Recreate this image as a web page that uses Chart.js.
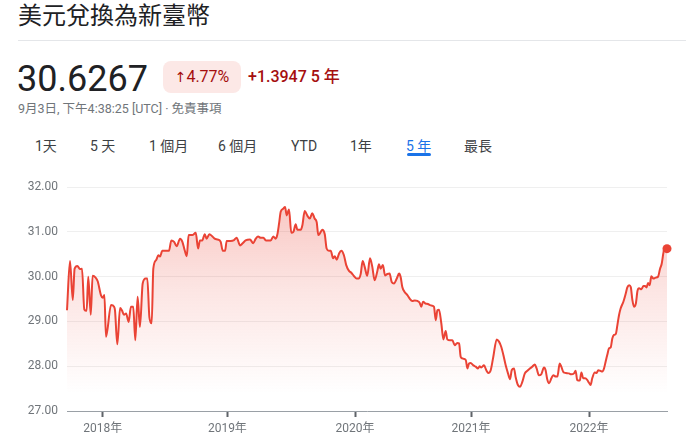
<!DOCTYPE html>
<html>
<head>
<meta charset="utf-8">
<script src="https://cdn.jsdelivr.net/npm/chart.js@4"></script>
<style>
  html,body{margin:0;padding:0;background:#fff;}
  body{width:686px;height:446px;position:relative;overflow:hidden;font-family:Roboto,"Noto Sans CJK TC",sans-serif;color:#202124;}
  .abs{position:absolute;white-space:nowrap;}
  #title{left:18px;top:-0.5px;font-size:24px;line-height:32px;color:#202124;}
  #rule{left:18px;top:40px;width:668px;height:1px;background:#e4e6e9;}
  #price{left:17px;top:59px;font-size:36px;line-height:40px;color:#202124;}
  #pill{left:163px;top:61px;width:78px;height:32px;border-radius:8px;background:#fce8e6;color:#a50e0e;font-size:16px;line-height:32px;text-align:center;}
  #pill .arr{font-family:"DejaVu Sans",sans-serif;font-size:14px;}
  #chg{left:248px;top:61px;font-size:16px;line-height:32px;color:#a50e0e;font-weight:500;}
  #stamp{left:18px;top:100.5px;font-size:12.5px;line-height:16px;color:#70757a;}
  .tab{top:136px;font-size:14px;line-height:20px;color:#3c4043;}
  .tab.on{color:#1a73e8;}
  #uline{left:407px;top:153px;width:24px;height:3px;border-radius:2px;background:#1a73e8;}
  #wrap{position:absolute;left:0;top:171px;width:686px;height:277px;}
</style>
</head>
<body>
<div class="abs" id="title">美元兌換為新臺幣</div>
<div class="abs" id="rule"></div>
<div class="abs" id="price">30.6267</div>
<div class="abs" id="pill"><span class="arr">↑</span>4.77%</div>
<div class="abs" id="chg">+1.3947 5 年</div>
<div class="abs" id="stamp">9月3日, 下午4:38:25 [UTC] · 免責事項</div>
<div class="abs tab" style="left:35px">1天</div>
<div class="abs tab" style="left:90px">5 天</div>
<div class="abs tab" style="left:149px">1 個月</div>
<div class="abs tab" style="left:218px">6 個月</div>
<div class="abs tab" style="left:291px">YTD</div>
<div class="abs tab" style="left:350px">1年</div>
<div class="abs tab on" style="left:406px">5 年</div>
<div class="abs tab" style="left:464px">最長</div>
<div class="abs" id="uline"></div>
<div id="wrap"><canvas id="c"></canvas></div>
<script>
// Weeks since 2017-09-03 (x position in time)
const weeks = [
  0,1.3,2.5,3.3,4.5,5.6,6.5,7.5,8.5,9.2,
  10.3,11.1,12.4,13.3,14.7,15.5,16.2,16.9,19.1,20.4,
  20.8,21.8,23.0,23.8,24.7,25.6,26.7,27.7,28.7,29.6,
  30.6,31.6,32.8,34.1,34.8,35.7,36.7,37.4,38.6,39.6,
  40.3,41.3,44.2,45.2,46.4,47.5,49.0,50.0,51.0,51.9,
  52.7,54.3,55.8,56.8,57.6,58.6,59.7,60.5,61.7,63.0,
  64.0,65.4,66.6,67.5,68.5,69.2,70.9,72.4,73.5,75.0,
  76.0,77.4,79.3,80.7,81.8,82.8,83.9,85.1,86.2,88.3,
  89.4,90.4,91.1,91.9,92.6,93.7,94.5,95.2,96.2,97.2,
  98.1,99.1,99.8,101.3,102.0,103.0,104.1,105.2,106.3,107.3,
  108.2,108.9,109.6,110.6,111.7,112.5,113.5,114.3,115.3,116.0,
  116.9,117.9,118.9,120.0,121.0,122.2,123.2,124.4,125.5,126.5,
  127.3,128.1,129.0,130.1,131.3,132.3,133.3,134.5,135.2,135.9,
  136.9,137.8,138.8,139.8,140.7,141.7,142.9,143.9,144.6,145.3,
  146.3,147.5,148.5,149.6,150.7,151.8,152.8,153.5,154.3,155.4,
  156.4,157.6,159.0,159.8,160.5,161.2,162.2,163.1,164.1,164.8,
  166.0,167.0,168.0,169.1,169.9,170.6,171.6,172.8,173.5,174.2,
  174.9,176.1,177.1,178.1,178.8,179.5,180.7,181.7,182.6,183.6,
  184.7,186.2,187.2,188.2,189.1,190.1,191.1,192.0,192.7,193.7,
  194.4,195.4,196.3,197.3,198.4,199.5,200.6,201.6,202.7,203.5,
  204.5,205.5,206.7,207.4,208.1,208.9,209.9,210.7,211.8,212.5,
  213.5,214.2,215.1,216.1,217.5,218.5,219.7,220.4,221.1,222.2,
  222.9,223.7,224.5,225.5,226.2,226.9,227.6,228.7,229.5,230.2,
  231.0,232.0,232.7,233.4,234.1,234.9,235.6,236.3,237.0,237.8,
  238.5,239.2,239.9,241.1,242.1,242.8,243.6,244.3,245.0,245.7,
  246.5,247.2,247.9,248.9,249.8,250.5,251.1,251.8,252.5,253.2,
  254.1,255.1,256.1,257.0,257.7,258.4,259.0,260.0
];
// USD -> TWD rate
const rates = [
  29.25,30.35,29.48,30.18,30.24,30.17,30.18,29.27,29.24,30.0,
  29.15,30.02,29.98,29.9,29.59,29.53,29.59,28.66,29.37,29.33,
  29.25,28.49,29.3,29.25,29.15,29.18,28.99,29.33,29.33,28.58,
  29.55,28.88,29.85,29.96,29.96,29.1,28.96,30.18,30.37,30.48,
  30.45,30.58,30.58,30.81,30.78,30.68,30.85,30.78,30.59,30.46,
  30.93,30.93,30.98,30.63,30.81,30.81,30.95,30.85,30.95,30.9,
  30.85,30.83,30.78,30.58,30.58,30.8,30.8,30.82,30.87,30.7,
  30.74,30.81,30.83,30.75,30.85,30.9,30.87,30.87,30.81,30.81,
  30.9,30.85,30.93,31.19,31.45,31.52,31.56,31.37,31.5,30.98,
  31.0,31.17,31.05,31.05,31.15,31.47,31.37,31.3,31.42,31.3,
  31.22,30.93,30.97,31.05,30.95,30.63,30.58,30.58,30.41,30.46,
  30.38,30.52,30.58,30.48,30.26,30.13,30.09,30.01,29.96,29.96,
  30.07,30.35,30.22,30.02,30.41,30.22,29.92,30.13,30.28,30.18,
  30.26,30.03,30.06,30.07,29.88,29.85,29.96,30.07,29.99,29.77,
  29.66,29.59,29.51,29.46,29.47,29.46,29.42,29.33,29.44,29.4,
  29.39,29.36,29.33,29.03,29.25,29.26,28.96,28.6,28.79,28.6,
  28.58,28.58,28.47,28.52,28.51,28.21,28.17,28.14,27.95,28.06,
  28.07,28.02,27.99,27.95,28.0,27.97,28.02,27.91,27.85,27.91,
  28.2,28.6,28.55,28.43,28.25,28.02,27.84,27.71,27.91,27.95,
  27.76,27.58,27.54,27.65,27.84,27.9,27.95,27.99,28.04,27.95,
  27.8,27.82,27.97,27.91,27.71,27.62,27.73,27.8,27.77,27.77,
  28.06,27.99,27.87,27.85,27.84,27.82,27.84,27.9,27.69,27.68,
  27.86,27.73,27.73,27.69,27.63,27.58,27.73,27.86,27.85,27.91,
  27.9,27.88,27.95,28.1,28.25,28.4,28.42,28.62,28.7,28.72,
  28.92,29.14,29.29,29.44,29.62,29.76,29.81,29.77,29.48,29.33,
  29.4,29.68,29.74,29.72,29.79,29.79,29.76,29.86,29.81,30.01,
  29.96,29.98,30.0,30.18,30.29,30.52,30.67,30.6267
];
// Year ticks (week positions on the axis) and their labels
const tickWeeks = [15.5, 69.5, 124.8, 175.1, 226.2];
const tickLabels = ["2018年", "2019年", "2020年", "2021年", "2022年"];
const yTicks = [27, 28, 29, 30, 31, 32];

const points = weeks.map((w, i) => ({x: w, y: rates[i]}));
const last = points.length - 1;

Chart.defaults.font.family = 'Roboto, "Noto Sans CJK TC", sans-serif';
Chart.defaults.font.size = 12;
Chart.defaults.color = '#70757a';

new Chart(document.getElementById('c'), {
  type: 'line',
  data: {
    datasets: [{
      data: points,
      borderColor: '#ea4335',
      borderWidth: 2,
      cubicInterpolationMode: 'monotone',
      pointRadius: ctx => ctx.dataIndex === last ? 4.5 : 0,
      pointHoverRadius: 0,
      pointBackgroundColor: '#ea4335',
      pointBorderWidth: 0,
      clip: false,
      fill: 'start',
      backgroundColor: ctx => {
        const ca = ctx.chart.chartArea;
        if (!ca) return 'rgba(234,67,53,0.2)';
        const g = ctx.chart.ctx.createLinearGradient(0, ca.top, 0, ca.bottom);
        g.addColorStop(0, 'rgba(234,67,53,0.32)');
        g.addColorStop(0.45, 'rgba(234,67,53,0.14)');
        g.addColorStop(0.92, 'rgba(234,67,53,0.0)');
        g.addColorStop(1, 'rgba(234,67,53,0.0)');
        return g;
      }
    }]
  },
  options: {
    responsive: true,
    maintainAspectRatio: false,
    animation: false,
    events: [],
    layout: {padding: {top: 10, right: 19, left: 0, bottom: 0}},
    plugins: {legend: {display: false}, tooltip: {enabled: false}},
    scales: {
      x: {
        type: 'linear',
        min: 0,
        max: 260,
        afterBuildTicks: s => { s.ticks = tickWeeks.map(v => ({value: v})); },
        afterFit: s => { s.height = 37; },
        ticks: {
          autoSkip: false,
          maxRotation: 0,
          padding: 5,
          color: '#70757a',
          font: {size: 12},
          callback: (v, i) => tickLabels[i]
        },
        grid: {drawOnChartArea: false, drawTicks: true, tickLength: 6, tickWidth: 2, tickColor: '#5f6368'},
        border: {display: true, color: '#9aa0a6', width: 1}
      },
      y: {
        min: 27,
        max: 32,
        afterBuildTicks: s => { s.ticks = yTicks.map(v => ({value: v})); },
        afterFit: s => { s.width = 67; },
        ticks: {
          padding: 9,
          color: '#70757a',
          font: {size: 12},
          callback: v => v.toFixed(2)
        },
        grid: {color: '#efefef', lineWidth: 1, drawTicks: false},
        border: {display: false}
      }
    }
  }
});
</script>
</body>
</html>
